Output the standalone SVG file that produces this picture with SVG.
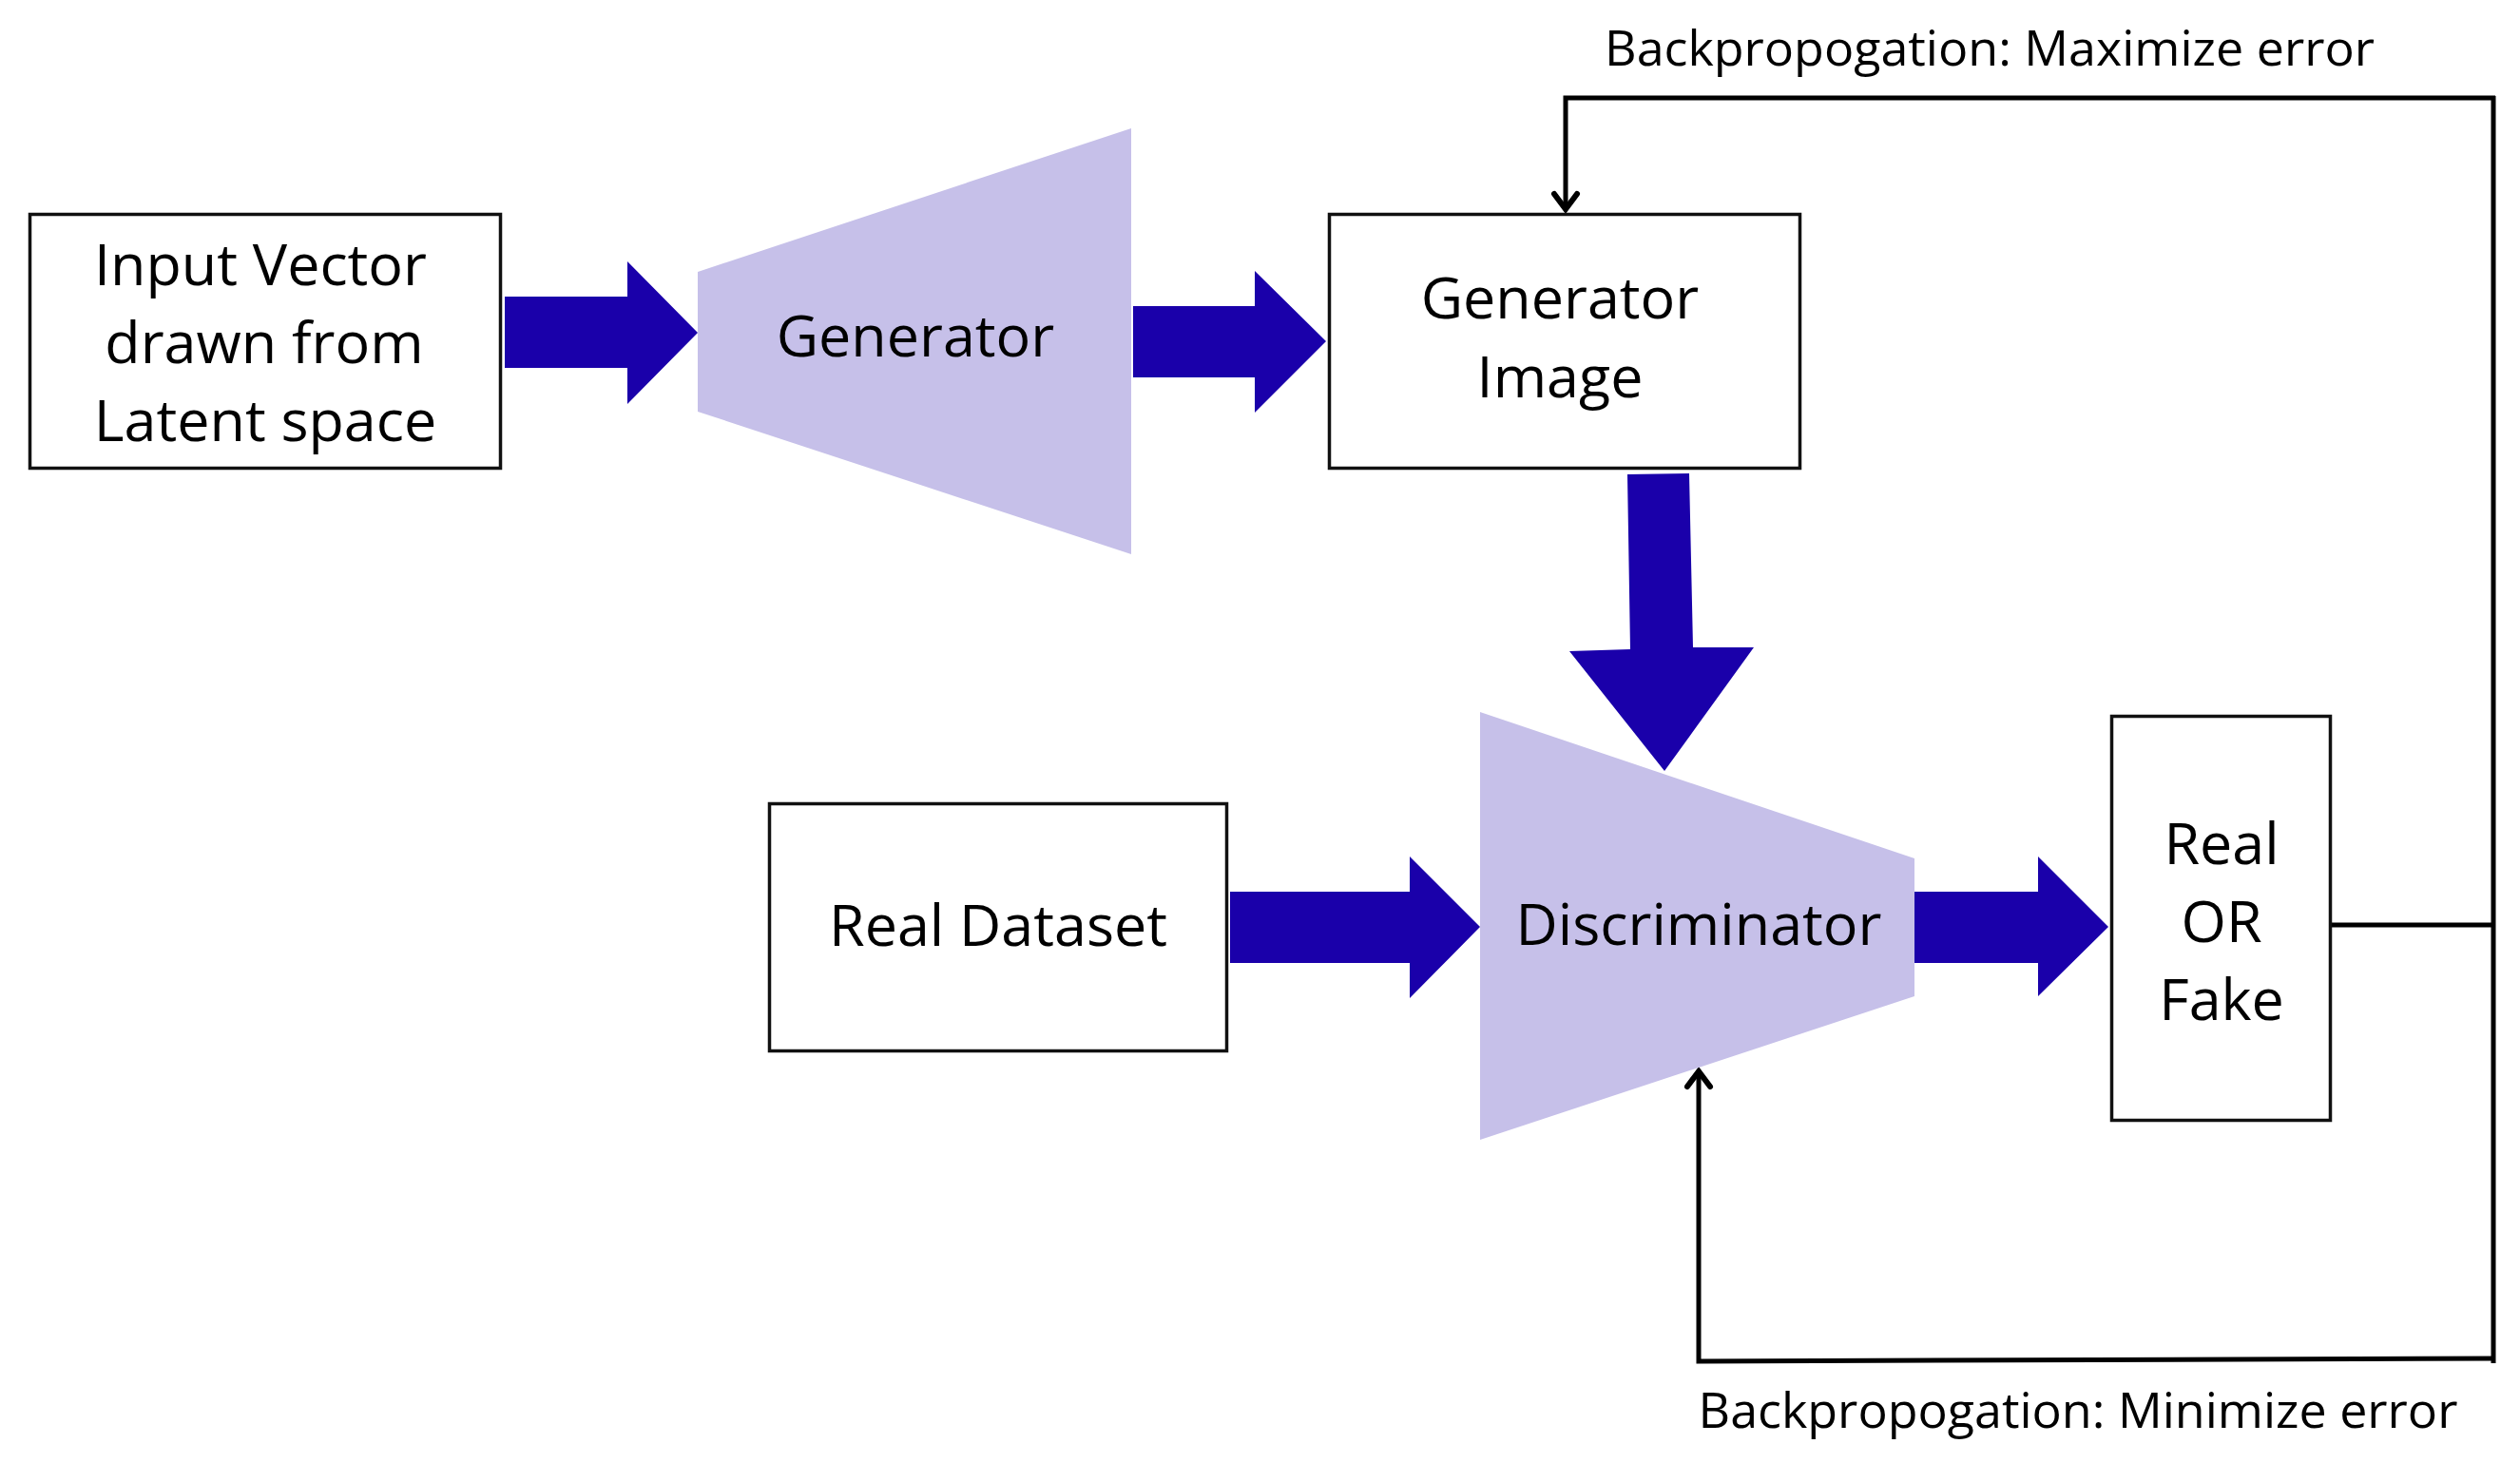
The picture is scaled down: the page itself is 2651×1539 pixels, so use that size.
<svg xmlns="http://www.w3.org/2000/svg" width="2651" height="1539" viewBox="0 0 2651 1539">
<defs>
<style>
.box{fill:#ffffff;stroke:#111111;stroke-width:3.5}
.trap{fill:#C6C0E9}
.blk{fill:#1A00AA}
.lbl{font-family:"Open Sans","Liberation Sans",sans-serif;font-size:61px;fill:#000000;text-anchor:middle}
.note{font-family:"Open Sans","Liberation Sans",sans-serif;font-size:52px;fill:#000000;text-anchor:middle}
.fb{fill:none;stroke:#000000;stroke-width:5}
</style>
<marker id="chev" markerUnits="userSpaceOnUse" markerWidth="40" markerHeight="40" viewBox="-30 -20 40 40" refX="0" refY="0" orient="auto" overflow="visible">
<path d="M -16 -12 L 0 0 L -16 12" fill="none" stroke="#000000" stroke-width="6" stroke-linecap="round" stroke-linejoin="miter"/>
</marker>
</defs>
<rect width="2651" height="1539" fill="#ffffff"/>

<g id="connectors">
<polygon class="blk" points="531,312 660,312 660,275 734,350 660,425 660,387 531,387"/>
<polygon class="blk" points="1192,322 1320,322 1320,285 1395,359 1320,434 1320,397 1192,397"/>
<polygon class="blk" points="1712,499 1777,498 1781,681 1845,681 1751,811 1651,685 1715,683"/>
<polygon class="blk" points="1294,938 1483,938 1483,901 1557,975 1483,1050 1483,1013 1294,1013"/>
<polygon class="blk" points="2014,938 2144,938 2144,901 2218,975 2144,1048 2144,1013 2014,1013"/>
<line class="fb" x1="2453" y1="973" x2="2623" y2="973"/>
<line class="fb" x1="2623" y1="101" x2="2623" y2="1434"/>
<path class="fb" d="M 2625 103 L 1647 103 L 1647 220" marker-end="url(#chev)"/>
<path class="fb" d="M 2625 1429 L 1787 1432 L 1787 1127" marker-end="url(#chev)"/>
</g>

<g id="input-vector">
<rect class="box" x="31.5" y="225.5" width="495" height="267"/>
<text class="lbl" x="274" y="300">Input Vector</text>
<text class="lbl" x="278" y="382">drawn from</text>
<text class="lbl" x="279" y="464">Latent space</text>
</g>

<g id="generator">
<polygon class="trap" points="734,286 1190,135 1190,583 734,433"/>
<text class="lbl" x="963" y="375">Generator</text>
</g>

<g id="generator-image">
<rect class="box" x="1398.5" y="225.5" width="495" height="267"/>
<text class="lbl" x="1641" y="335">Generator</text>
<text class="lbl" x="1641" y="418">Image</text>
</g>

<g id="real-dataset">
<rect class="box" x="809.5" y="845.5" width="481" height="260"/>
<text class="lbl" x="1050" y="995">Real Dataset</text>
</g>

<g id="discriminator">
<polygon class="trap" points="1557,749 2014,903 2014,1048 1557,1199"/>
<text class="lbl" x="1787" y="994">Discriminator</text>
</g>

<g id="real-or-fake">
<rect class="box" x="2221.5" y="753.5" width="230" height="425"/>
<text class="lbl" x="2337" y="909">Real</text>
<text class="lbl" x="2337" y="991">OR</text>
<text class="lbl" x="2337" y="1073">Fake</text>
</g>

<g id="labels">
<text class="note" x="2093" y="69">Backpropogation: Maximize error</text>
<text class="note" x="2186" y="1502">Backpropogation: Minimize error</text>
</g>
</svg>
